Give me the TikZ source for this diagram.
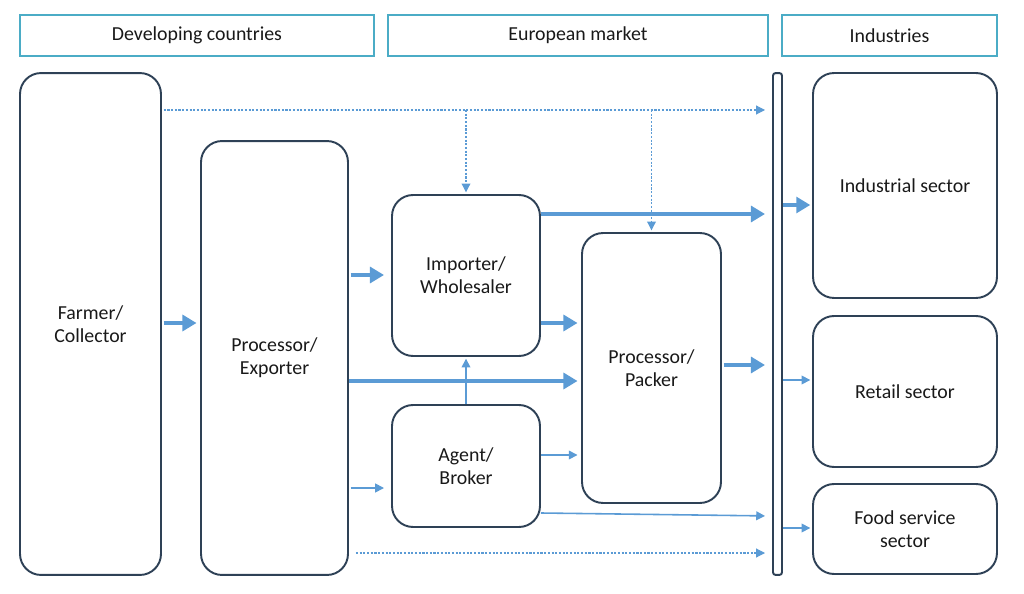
\documentclass[tikz,border=0pt]{standalone}
\usepackage{fontspec}
\setmainfont{Carlito}
\usetikzlibrary{arrows.meta}
\definecolor{headcyan}{HTML}{4BACC6}
\definecolor{boxline}{HTML}{2E4156}
\definecolor{flowblue}{HTML}{5B9BD5}
\tikzset{
	head/.style={draw=headcyan, line width=1.2pt, minimum height=0.82cm, font=\fontsize{11.3}{13}\selectfont, text=black!90},
	actor/.style={draw=boxline, line width=1.1pt, rounded corners=0.42cm, align=center, font=\fontsize{11.3}{13.2}\selectfont, text=black!90},
	flow/.style={draw=flowblue, line width=0.9pt, -{Triangle[length=5pt, width=5pt]}, shorten >=4pt},
	bigflow/.style={draw=flowblue, line width=2.7pt, -{Triangle[length=8pt, width=9pt]}, shorten >=4pt},
	dotflow/.style={draw=flowblue, line width=0.6pt, dash pattern=on 1.2pt off 0.9pt, -{Triangle[length=5pt, width=5pt]}, shorten >=4pt}
}

\begin{document}
\begin{tikzpicture}[x=0.02cm, y=-0.02cm]
			%%%%% START %%%%%
			\useasboundingbox (0, 0) rectangle (1024, 594);
			
			\node[head, minimum width=7.08cm] (hdev) at (197, 35.5) {Developing countries};
			\node[head, minimum width=7.6cm] (heur) at (578, 35.5) {European market};
			\node[head, minimum width=4.3cm] (hind) at (889.5, 35.5) {Industries};
			
			\node[actor, minimum width=2.82cm, minimum height=10.04cm] (farmer) at (90.5, 324) {Farmer/\\Collector};
			\node[actor, minimum width=2.94cm, minimum height=8.68cm] (exporter) at (274.5, 358) {Processor/\\Exporter};
			\node[actor, minimum width=2.96cm, minimum height=3.22cm] (importer) at (466, 275.5) {Importer/\\Wholesaler};
			\node[actor, minimum width=2.96cm, minimum height=2.44cm] (agent) at (466, 466) {Agent/\\Broker};
			\node[actor, minimum width=2.78cm, minimum height=5.4cm] (packer) at (651.5, 368) {Processor/\\Packer};
			\node[draw=boxline, line width=1.1pt, rounded corners=1.5pt, minimum width=0.18cm, minimum height=10.04cm, inner sep=0pt] (bar) at (777.5, 324) {};
			\node[actor, minimum width=3.68cm, minimum height=4.5cm] (industrial) at (905, 185.5) {Industrial sector};
			\node[actor, minimum width=3.68cm, minimum height=3.02cm] (retail) at (905, 391.5) {Retail sector};
			\node[actor, minimum width=3.68cm, minimum height=1.8cm] (food) at (905, 529) {Food service\\sector};
			
			% dotted direct routes
			\draw[dotflow] ([xshift=1pt]farmer.east |- 0,110) -- (bar.west |- 0,110);
			\draw[dotflow, shorten >=1pt] (importer.north |- 0,110) -- (importer.north);
			\draw[dotflow, shorten >=1pt] (packer.north |- 0,110) -- (packer.north);
			\draw[dotflow] ([xshift=4pt]exporter.east |- 0,553) -- (bar.west |- 0,553);
			
			% main flows
			\draw[bigflow, shorten >=2pt] ([xshift=1pt]farmer.east |- 0,323) -- (exporter.west |- 0,323);
			\draw[bigflow] ([xshift=1pt]exporter.east |- 0,275) -- (importer.west |- 0,275);
			\draw[bigflow, shorten >=2pt] (exporter.east |- 0,381) -- (packer.west |- 0,381);
			\draw[flow] ([xshift=1pt]exporter.east |- 0,488) -- (agent.west |- 0,488);
			\draw[bigflow] (importer.east |- 0,214) -- (bar.west |- 0,214);
			\draw[bigflow, shorten >=2pt] (importer.east |- 0,323) -- (packer.west |- 0,323);
			\draw[flow, shorten >=1pt] (agent.north) -- (importer.south);
			\draw[flow, shorten >=2pt] (agent.east |- 0,455) -- (packer.west |- 0,455);
			\draw[flow] (agent.east |- 0,513) -- (bar.west |- 0,516);
			\draw[bigflow] ([xshift=1pt]packer.east |- 0,365) -- (bar.west |- 0,365);
			
			% to the sectors
			\draw[bigflow, shorten >=1pt] (bar.east |- 0,205) -- (industrial.west |- 0,205);
			\draw[flow, shorten >=1pt] (bar.east |- 0,380) -- (retail.west |- 0,380);
			\draw[flow, shorten >=1pt] (bar.east |- 0,528) -- (food.west |- 0,528);
			%%%%% END %%%%%
\end{tikzpicture}
\end{document}
